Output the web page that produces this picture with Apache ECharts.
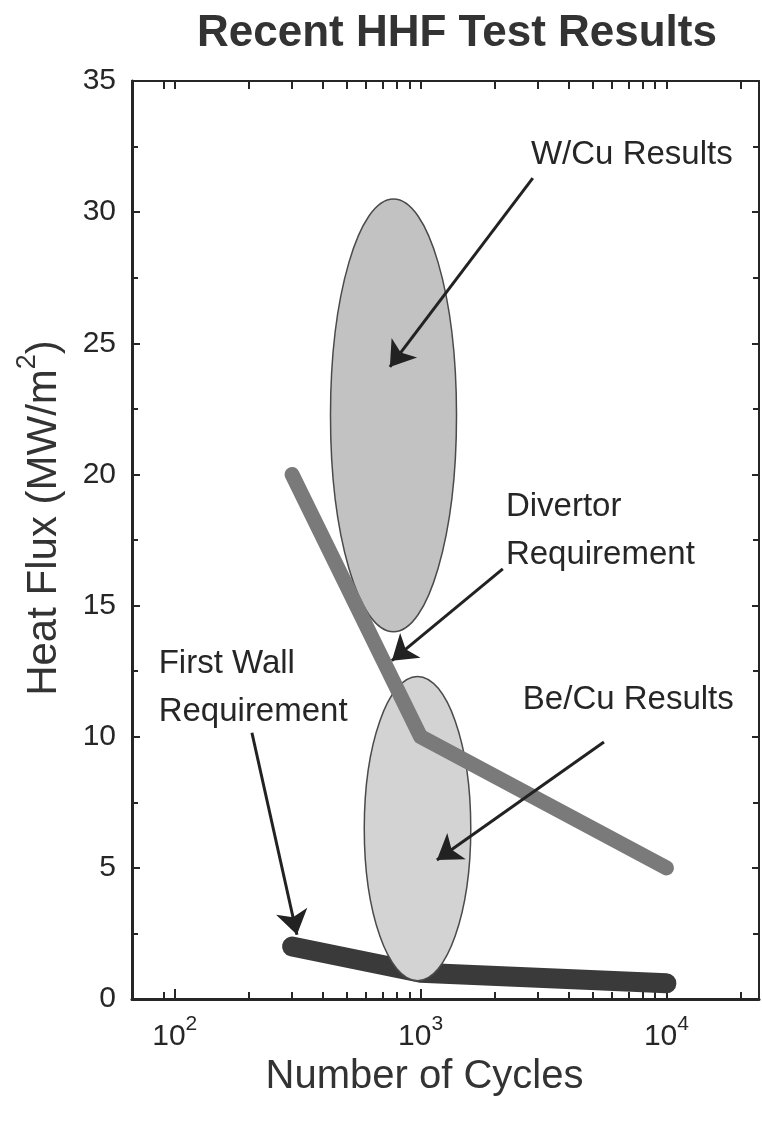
<!DOCTYPE html>
<html>
<head>
<meta charset="utf-8">
<script src="https://cdn.jsdelivr.net/npm/echarts@6/dist/echarts.min.js"></script>
<style>
  html, body { margin: 0; padding: 0; background: #fff; }
  #chart { width: 762px; height: 1124px; }
</style>
</head>
<body>
<div id="chart"></div>
<script>
// axis ranges (cycles on a log scale)
const cycleMin = 67
const cycleMax = 23800
const majorCycles = [100, 1000, 10000]
const minorCycles = [90, 200, 300, 400, 500, 600, 700, 800, 900,
  2000, 3000, 4000, 5000, 6000, 7000, 8000, 9000, 20000]

// requirement curves: [cycles, heat flux]
const divertorReq = [[300, 20], [1000, 10], [10000, 5]]
const firstWallReq = [[300, 2.0], [1000, 1.0], [10000, 0.6]]

// test result regions (ellipses): cycle span and flux span
const resultNames = ['W/Cu Results', 'Be/Cu Results']
const resultCycles = [[430, 1400], [590, 1600]]
const resultFlux = [[14, 30.5], [0.7, 12.3]]

// annotation text anchors and arrows (data units)
const noteTexts = ['W/Cu Results', 'Divertor\nRequirement', 'First Wall\nRequirement', 'Be/Cu Results']
const noteAt = [[2812, 32.2], [2223, 17.86], [86, 11.87], [2606, 11.41]]
const arrowFrom = [[2860, 31.3], [2160, 16.4], [5570, 9.8], [206, 10.15]]
const arrowTo = [[750, 24.1], [764, 12.9], [1165, 5.3], [314, 2.45]]

const lg = Math.log10
const font = "'Liberation Sans', Arial, sans-serif"
const ink = '#262626'
const ellipseFill = ['#c2c2c2', '#d3d3d3']

const chart = echarts.init(document.getElementById('chart'))

const xBase = {
  type: 'value',
  min: lg(cycleMin),
  max: lg(cycleMax),
  splitLine: { show: false },
  gridIndex: 0
}

const option = {
  backgroundColor: '#fff',
  animation: false,
  title: {
    text: 'Recent HHF Test Results',
    left: 192,
    top: 7,
    textStyle: { fontFamily: font, fontSize: 44, fontWeight: 'bold', color: '#333' }
  },
  grid: { left: 132, right: 3, top: 81, bottom: 125 },
  xAxis: [
    Object.assign({}, xBase, {
      position: 'bottom',
      name: 'Number of Cycles',
      nameLocation: 'middle',
      nameGap: 51,
      nameTextStyle: { fontFamily: font, fontSize: 40, color: '#333', padding: [0, 42, 0, 0] },
      axisLine: { show: true, lineStyle: { color: ink, width: 3 } },
      axisTick: { show: true, inside: true, length: 10, lineStyle: { color: ink, width: 2 },
        customValues: majorCycles.map(lg) },
      axisLabel: {
        customValues: majorCycles.map(lg),
        margin: 15,
        formatter: v => '{b|10}{s|' + Math.round(v) + '}',
        rich: {
          b: { fontFamily: font, fontSize: 30, color: ink, lineHeight: 46 },
          s: { fontFamily: font, fontSize: 21, color: ink, verticalAlign: 'top', lineHeight: 20 }
        }
      }
    }),
    Object.assign({}, xBase, {
      position: 'bottom',
      axisLine: { show: false },
      axisTick: { show: true, inside: true, length: 7, lineStyle: { color: ink, width: 2 },
        customValues: minorCycles.map(lg) },
      axisLabel: { show: false }
    }),
    Object.assign({}, xBase, {
      position: 'top',
      axisLine: { show: true, lineStyle: { color: ink, width: 2 } },
      axisTick: { show: true, inside: true, length: 8, lineStyle: { color: ink, width: 2 },
        customValues: majorCycles.concat(minorCycles).map(lg) },
      axisLabel: { show: false }
    })
  ],
  yAxis: [
    {
      type: 'value',
      position: 'left',
      min: 0,
      max: 35,
      interval: 5,
      name: '{a|Heat Flux (MW/m}{s|2}{a|)}',
      nameLocation: 'middle',
      nameRotate: 90,
      nameGap: 58,
      nameTextStyle: {
        padding: [0, 0, 0, 44],
        rich: {
          a: { fontFamily: font, fontSize: 42, color: '#333', lineHeight: 60 },
          s: { fontFamily: font, fontSize: 27, color: '#333', verticalAlign: 'top', lineHeight: 27 }
        }
      },
      splitLine: { show: false },
      axisLine: { show: true, lineStyle: { color: ink, width: 3 } },
      axisTick: { show: true, inside: true, length: 8, lineStyle: { color: ink, width: 2 } },
      minorTick: { show: true, splitNumber: 2, length: 6, lineStyle: { color: ink, width: 2 } },
      axisLabel: { fontFamily: font, fontSize: 30, color: ink, margin: 16, padding: [12, 0, 0, 0] }
    },
    {
      type: 'value',
      position: 'right',
      min: 0,
      max: 35,
      interval: 5,
      splitLine: { show: false },
      axisLine: { show: true, lineStyle: { color: ink, width: 2 } },
      axisTick: { show: true, inside: true, length: 7, lineStyle: { color: ink, width: 2 } },
      minorTick: { show: true, splitNumber: 2, length: 6, lineStyle: { color: ink, width: 2 } },
      axisLabel: { show: false }
    }
  ],
  series: [
    {
      name: 'First Wall Requirement',
      type: 'line',
      z: 2,
      xAxisIndex: 0,
      yAxisIndex: 0,
      symbol: 'none',
      data: firstWallReq.map(p => [lg(p[0]), p[1]]),
      lineStyle: { color: '#3a3a3a', width: 20, cap: 'round', join: 'round' }
    },
    {
      name: 'Results',
      type: 'custom',
      z: 3,
      xAxisIndex: 0,
      yAxisIndex: 0,
      data: resultNames.map((n, i) => [lg(resultCycles[i][0]), lg(resultCycles[i][1]), resultFlux[i][0], resultFlux[i][1]]),
      encode: { x: [0, 1], y: [2, 3] },
      renderItem: (params, api) => {
        const a = api.coord([api.value(0), api.value(2)])
        const b = api.coord([api.value(1), api.value(3)])
        return {
          type: 'ellipse',
          shape: {
            cx: (a[0] + b[0]) / 2,
            cy: (a[1] + b[1]) / 2,
            rx: Math.abs(b[0] - a[0]) / 2,
            ry: Math.abs(b[1] - a[1]) / 2
          },
          style: { fill: ellipseFill[params.dataIndex], stroke: '#4a4a4a', lineWidth: 1.5 }
        }
      }
    },
    {
      name: 'Divertor Requirement',
      type: 'line',
      z: 4,
      xAxisIndex: 0,
      yAxisIndex: 0,
      symbol: 'none',
      data: divertorReq.map(p => [lg(p[0]), p[1]]),
      lineStyle: { color: '#7a7a7a', width: 15, cap: 'round', join: 'round' }
    },
    {
      name: 'Arrows',
      type: 'lines',
      coordinateSystem: 'cartesian2d',
      z: 5,
      xAxisIndex: 0,
      yAxisIndex: 0,
      symbol: ['none', 'arrow'],
      symbolSize: 24,
      data: arrowFrom.map((f, i) => ({
        coords: [[lg(f[0]), f[1]], [lg(arrowTo[i][0]), arrowTo[i][1]]]
      })),
      lineStyle: { color: '#222', width: 3, opacity: 1, curveness: 0 }
    },
    {
      name: 'Notes',
      type: 'custom',
      z: 6,
      xAxisIndex: 0,
      yAxisIndex: 0,
      data: noteAt.map((p, i) => [lg(p[0]), p[1], i]),
      renderItem: (params, api) => {
        const p = api.coord([api.value(0), api.value(1)])
        return {
          type: 'text',
          x: p[0],
          y: p[1],
          style: {
            text: noteTexts[params.dataIndex],
            fontFamily: font,
            fontSize: 33,
            lineHeight: 48,
            fill: ink,
            align: 'left',
            verticalAlign: 'middle'
          }
        }
      }
    }
  ]
}

chart.setOption(option)
</script>
</body>
</html>
